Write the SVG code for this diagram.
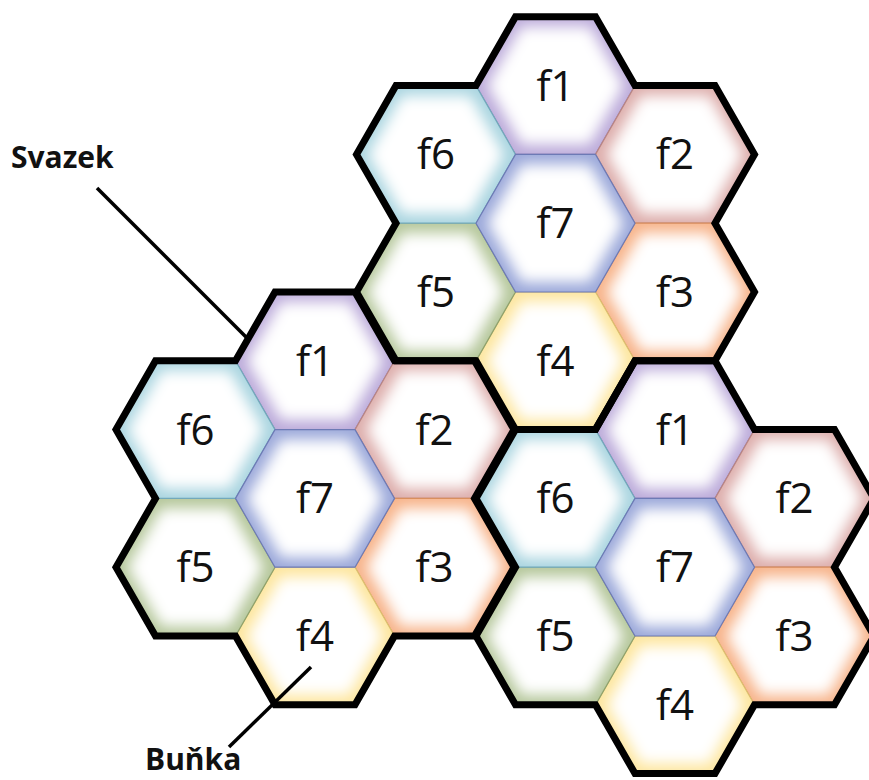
<svg xmlns="http://www.w3.org/2000/svg" width="869" height="780" viewBox="0 0 869 780">
<defs>
<path id="hx" d="M-79.5,0 L-40,-68.8 L40,-68.8 L79.5,0 L40,68.8 L-40,68.8Z"/>
<path id="hxi" d="M-68,0 L-34,-59 L34,-59 L68,0 L34,59 L-34,59Z"/>
<path id="cluster" d="M-40,-206.4 L40,-206.4 L79.5,-137.6 L159.5,-137.6 L199,-68.8 L159.5,0 L199,68.8 L159.5,137.6 L79.5,137.6 L40,206.4 L-40,206.4 L-79.5,137.6 L-159.5,137.6 L-199,68.8 L-159.5,0 L-199,-68.8 L-159.5,-137.6 L-79.5,-137.6Z"/>
<clipPath id="clipHex"><use href="#hx"/></clipPath>
<filter id="soft" x="-40%" y="-40%" width="180%" height="180%"><feGaussianBlur stdDeviation="7"/></filter>
</defs>
<style>
.glow{fill:#fff;filter:url(#soft)}
.edge{fill:none;stroke-width:1.2}
.lbl{font-family:"Open Sans","Liberation Sans",sans-serif;font-size:42px;fill:#111;text-anchor:middle}
.c1 .base{fill:#bcabda}.c1 .edge{stroke:#8c7bb5}
.c2 .base{fill:#ddaeac}.c2 .edge{stroke:#b98583}
.c3 .base{fill:#f7b48b}.c3 .edge{stroke:#d98f5e}
.c4 .base{fill:#fde69f}.c4 .edge{stroke:#dcc070}
.c5 .base{fill:#b5c79b}.c5 .edge{stroke:#8ea16c}
.c6 .base{fill:#aad5e0}.c6 .edge{stroke:#72a9bb}
.c7 .base{fill:#9ca9da}.c7 .edge{stroke:#6d7ab5}
.outline{fill:none;stroke:#000;stroke-width:7;stroke-linejoin:miter;stroke-miterlimit:4}
.lead{stroke:#000;stroke-width:3.5;fill:none}
.cap{font-family:"Open Sans","Liberation Sans",sans-serif;font-size:30px;font-weight:bold;fill:#111}
</style>
<g id="cells">
<g id="top-f1" class="c1" transform="translate(555.5,85.6)"><use href="#hx" class="base"/><use href="#hxi" class="glow" clip-path="url(#clipHex)"/><use href="#hx" class="edge"/><text class="lbl" y="15">f1</text></g>
<g id="top-f2" class="c2" transform="translate(675,154.4)"><use href="#hx" class="base"/><use href="#hxi" class="glow" clip-path="url(#clipHex)"/><use href="#hx" class="edge"/><text class="lbl" y="15">f2</text></g>
<g id="top-f3" class="c3" transform="translate(675,292)"><use href="#hx" class="base"/><use href="#hxi" class="glow" clip-path="url(#clipHex)"/><use href="#hx" class="edge"/><text class="lbl" y="15">f3</text></g>
<g id="top-f4" class="c4" transform="translate(555.5,360.8)"><use href="#hx" class="base"/><use href="#hxi" class="glow" clip-path="url(#clipHex)"/><use href="#hx" class="edge"/><text class="lbl" y="15">f4</text></g>
<g id="top-f5" class="c5" transform="translate(436,292)"><use href="#hx" class="base"/><use href="#hxi" class="glow" clip-path="url(#clipHex)"/><use href="#hx" class="edge"/><text class="lbl" y="15">f5</text></g>
<g id="top-f6" class="c6" transform="translate(436,154.4)"><use href="#hx" class="base"/><use href="#hxi" class="glow" clip-path="url(#clipHex)"/><use href="#hx" class="edge"/><text class="lbl" y="15">f6</text></g>
<g id="top-f7" class="c7" transform="translate(555.5,223.2)"><use href="#hx" class="base"/><use href="#hxi" class="glow" clip-path="url(#clipHex)"/><use href="#hx" class="edge"/><text class="lbl" y="15">f7</text></g>

<g id="left-f1" class="c1" transform="translate(315,360.8)"><use href="#hx" class="base"/><use href="#hxi" class="glow" clip-path="url(#clipHex)"/><use href="#hx" class="edge"/><text class="lbl" y="15">f1</text></g>
<g id="left-f2" class="c2" transform="translate(434.5,429.6)"><use href="#hx" class="base"/><use href="#hxi" class="glow" clip-path="url(#clipHex)"/><use href="#hx" class="edge"/><text class="lbl" y="15">f2</text></g>
<g id="left-f3" class="c3" transform="translate(434.5,567.2)"><use href="#hx" class="base"/><use href="#hxi" class="glow" clip-path="url(#clipHex)"/><use href="#hx" class="edge"/><text class="lbl" y="15">f3</text></g>
<g id="left-f4" class="c4" transform="translate(315,636)"><use href="#hx" class="base"/><use href="#hxi" class="glow" clip-path="url(#clipHex)"/><use href="#hx" class="edge"/><text class="lbl" y="15">f4</text></g>
<g id="left-f5" class="c5" transform="translate(195.5,567.2)"><use href="#hx" class="base"/><use href="#hxi" class="glow" clip-path="url(#clipHex)"/><use href="#hx" class="edge"/><text class="lbl" y="15">f5</text></g>
<g id="left-f6" class="c6" transform="translate(195.5,429.6)"><use href="#hx" class="base"/><use href="#hxi" class="glow" clip-path="url(#clipHex)"/><use href="#hx" class="edge"/><text class="lbl" y="15">f6</text></g>
<g id="left-f7" class="c7" transform="translate(315,498.4)"><use href="#hx" class="base"/><use href="#hxi" class="glow" clip-path="url(#clipHex)"/><use href="#hx" class="edge"/><text class="lbl" y="15">f7</text></g>

<g id="right-f1" class="c1" transform="translate(675,429.6)"><use href="#hx" class="base"/><use href="#hxi" class="glow" clip-path="url(#clipHex)"/><use href="#hx" class="edge"/><text class="lbl" y="15">f1</text></g>
<g id="right-f2" class="c2" transform="translate(794.5,498.4)"><use href="#hx" class="base"/><use href="#hxi" class="glow" clip-path="url(#clipHex)"/><use href="#hx" class="edge"/><text class="lbl" y="15">f2</text></g>
<g id="right-f3" class="c3" transform="translate(794.5,636)"><use href="#hx" class="base"/><use href="#hxi" class="glow" clip-path="url(#clipHex)"/><use href="#hx" class="edge"/><text class="lbl" y="15">f3</text></g>
<g id="right-f4" class="c4" transform="translate(675,704.8)"><use href="#hx" class="base"/><use href="#hxi" class="glow" clip-path="url(#clipHex)"/><use href="#hx" class="edge"/><text class="lbl" y="15">f4</text></g>
<g id="right-f5" class="c5" transform="translate(555.5,636)"><use href="#hx" class="base"/><use href="#hxi" class="glow" clip-path="url(#clipHex)"/><use href="#hx" class="edge"/><text class="lbl" y="15">f5</text></g>
<g id="right-f6" class="c6" transform="translate(555.5,498.4)"><use href="#hx" class="base"/><use href="#hxi" class="glow" clip-path="url(#clipHex)"/><use href="#hx" class="edge"/><text class="lbl" y="15">f6</text></g>
<g id="right-f7" class="c7" transform="translate(675,567.2)"><use href="#hx" class="base"/><use href="#hxi" class="glow" clip-path="url(#clipHex)"/><use href="#hx" class="edge"/><text class="lbl" y="15">f7</text></g>
</g>
<g id="clusters">
<use href="#cluster" class="outline" transform="translate(555.5,223.2)"/>
<use href="#cluster" class="outline" transform="translate(315,498.4)"/>
<use href="#cluster" class="outline" transform="translate(675,567.2)"/>
</g>
<g id="connectors">
<line class="lead" x1="97" y1="188" x2="249" y2="340"/>
<line class="lead" x1="229" y1="747" x2="311" y2="667"/>
</g>
<g id="label-svazek"><text class="cap" x="11" y="168">Svazek</text></g>
<g id="label-bunka"><text class="cap" x="145" y="770">Buňka</text></g>
</svg>
